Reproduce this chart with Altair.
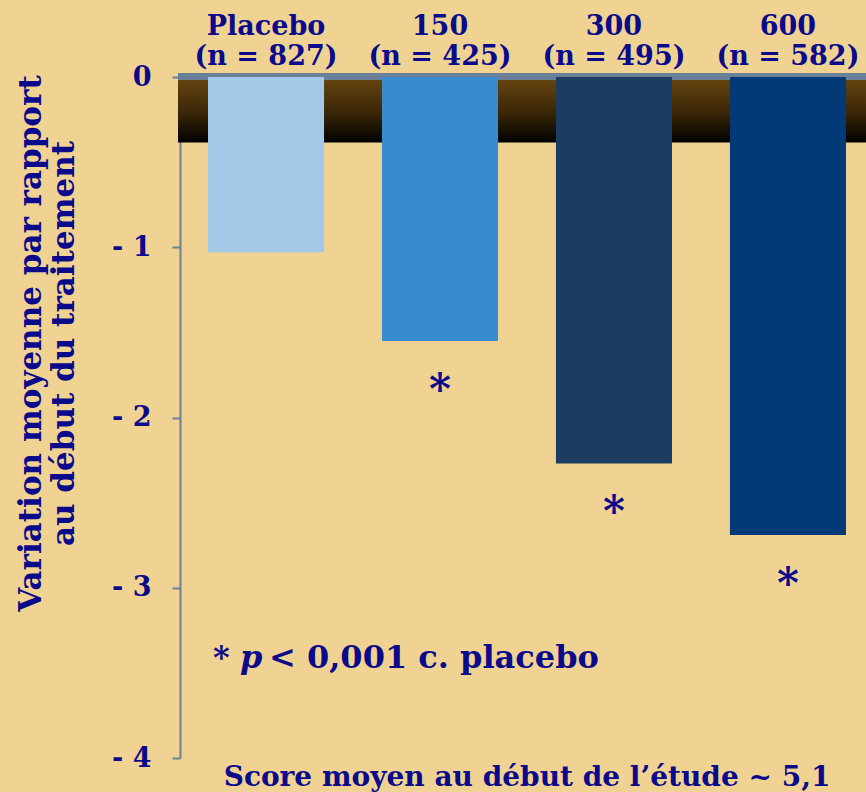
import altair as alt
import pandas as pd

# Mean change from baseline by treatment group
groups = ["Placebo", "150", "300", "600"]
counts = ["(n = 827)", "(n = 425)", "(n = 495)", "(n = 582)"]
changes = [-1.03, -1.55, -2.27, -2.69]
significant = [False, True, True, True]
bar_colors = ["#a3c8e8", "#368ccc", "#1b3d61", "#023a78"]

y_ticks = [0, -1, -2, -3, -4]

NAVY = "#0a0a8a"
SERIF = "DejaVu Serif"
W, H = 686, 681

df = pd.DataFrame({
    "group": groups,
    "count": counts,
    "change": changes,
    "sig": significant,
})

x_scale = alt.Scale(domain=groups, paddingInner=0.333, paddingOuter=0.138, align=0.583)
y_scale = alt.Scale(domain=[-4, 0], nice=False, zero=False)

# 3D-style back wall behind the bars
wall = alt.Chart(pd.DataFrame({"top": [0.0], "bottom": [-0.385]})).mark_rect(
    color=alt.Gradient(
        gradient="linear",
        stops=[alt.GradientStop(color="#684610", offset=0),
               alt.GradientStop(color="#3a2608", offset=0.55),
               alt.GradientStop(color="#000000", offset=1)],
        x1=0, x2=0, y1=0, y2=1,
    )
).encode(
    x=alt.value(-2), x2=alt.value(W + 10),
    y=alt.Y("top:Q", scale=y_scale), y2="bottom:Q",
)

ledge = alt.Chart(pd.DataFrame({"top": [0.024], "bottom": [-0.018]})).mark_rect(
    color="#6a8098"
).encode(
    x=alt.value(-2), x2=alt.value(W + 10),
    y=alt.Y("top:Q", scale=y_scale), y2="bottom:Q",
)

bars = alt.Chart(df).mark_bar().encode(
    x=alt.X("group:N", scale=x_scale, axis=None, sort=groups),
    y=alt.Y(
        "change:Q", scale=y_scale,
        axis=alt.Axis(
            values=y_ticks,
            labelExpr="datum.value == 0 ? '0' : '- ' + abs(datum.value)",
            labelFont=SERIF, labelFontSize=27, labelFontWeight="bold",
            labelColor=NAVY, labelPadding=21,
            domainColor="#6a8098", domainWidth=2,
            tickColor="#6a8098", tickWidth=2, tickSize=8,
            grid=False,
            title=["Variation moyenne par rapport", "au début du traitement"],
            titleFont=SERIF, titleFontSize=31, titleFontWeight="bold",
            titleColor=NAVY, titleAngle=-90, titleAlign="center",
            titleX=-149, titleY=266, titleBaseline="middle", titleLineHeight=33,
        ),
    ),
    y2=alt.datum(0),
    color=alt.Color("group:N", scale=alt.Scale(domain=groups, range=bar_colors), legend=None),
)

stars = alt.Chart(df).transform_filter("datum.sig").mark_text(
    text="*", font=SERIF, fontSize=42, fontWeight="bold", color=NAVY,
    baseline="middle", dy=50,
).encode(
    x=alt.X("group:N", scale=x_scale, sort=groups),
    y=alt.Y("change:Q", scale=y_scale),
)

label_style = dict(font=SERIF, fontSize=27, fontWeight="bold", color=NAVY, baseline="alphabetic")
name_labels = alt.Chart(df).mark_text(**label_style).encode(
    x=alt.X("group:N", scale=x_scale, sort=groups),
    y=alt.value(-42),
    text="group:N",
)
count_labels = alt.Chart(df).mark_text(**label_style).encode(
    x=alt.X("group:N", scale=x_scale, sort=groups),
    y=alt.value(-12),
    text="count:N",
)

note_style = dict(font=SERIF, fontSize=32, fontWeight="bold", color=NAVY,
                  baseline="alphabetic", align="left")
note_star = alt.Chart(pd.DataFrame({"t": ["*"]})).mark_text(**note_style).encode(
    x=alt.value(33), y=alt.value(591), text="t:N")
note_p = alt.Chart(pd.DataFrame({"t": ["p"]})).mark_text(
    **{**note_style, "fontStyle": "italic"}).encode(
    x=alt.value(60), y=alt.value(591), text="t:N")
note_rest = alt.Chart(pd.DataFrame({"t": ["< 0,001 c. placebo"]})).mark_text(**note_style).encode(
    x=alt.value(89), y=alt.value(591), text="t:N")

baseline_note = alt.Chart(pd.DataFrame({"t": ["Score moyen au début de l’étude ~ 5,1"]})).mark_text(
    font=SERIF, fontSize=28, fontWeight="bold", color=NAVY, baseline="alphabetic", align="center",
).encode(x=alt.value(347), y=alt.value(709), text="t:N")

chart = alt.layer(
    wall, ledge, bars, stars, name_labels, count_labels,
    note_star, note_p, note_rest, baseline_note,
).properties(
    width=W, height=H,
    autosize=alt.AutoSizeParams(type="none"),
    padding={"left": 180, "top": 77, "right": 0, "bottom": 34},
    background="#f0d393",
).configure_view(stroke=None)

chart.save("out.html", embed_options={"renderer": "svg", "actions": False})
